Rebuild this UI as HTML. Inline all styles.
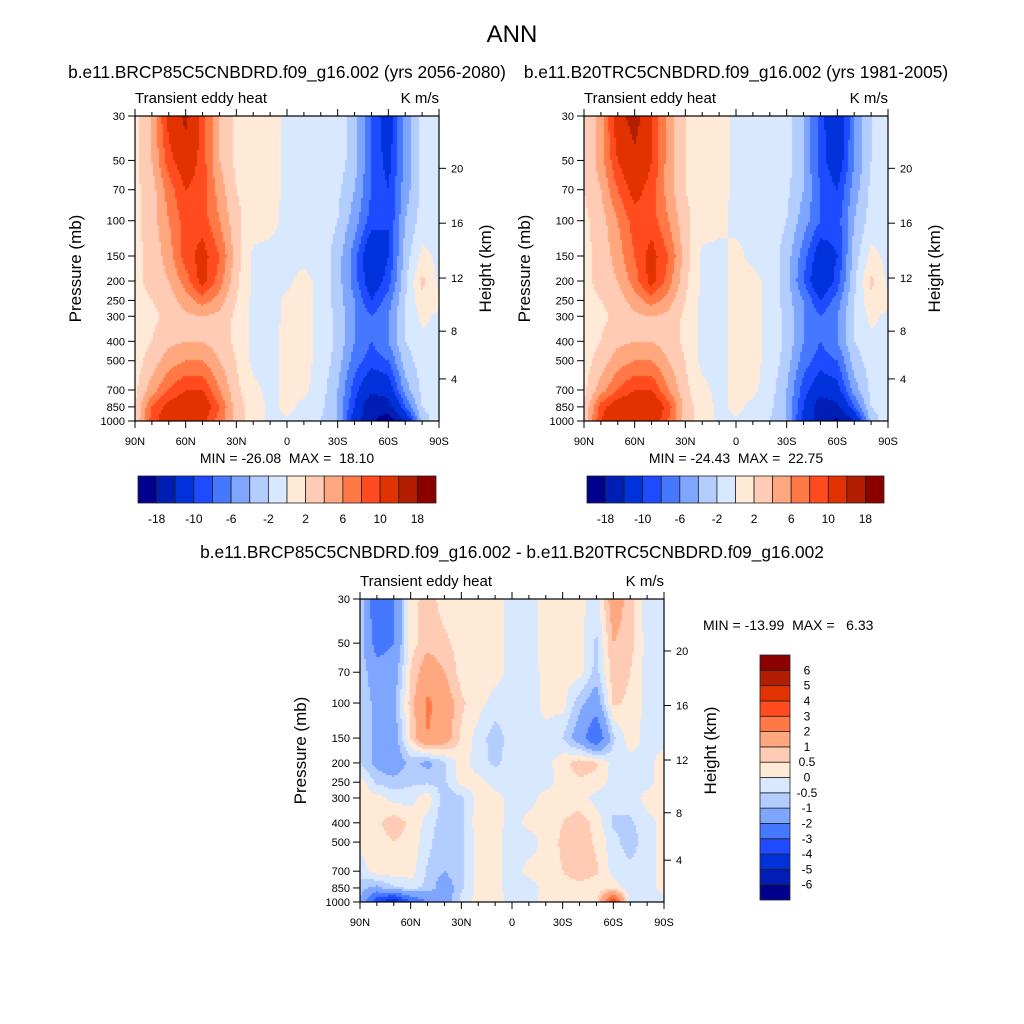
<!DOCTYPE html>
<html><head><meta charset="utf-8">
<style>
html,body{margin:0;padding:0;background:#fff;}
#wrap{position:relative;width:1024px;height:1024px;overflow:hidden;font-family:"Liberation Sans",sans-serif;}
canvas{position:absolute;}
svg{position:absolute;left:0;top:0;}
text{white-space:pre;}
</style></head>
<body>
<div id="wrap">
<canvas id="c1"></canvas>
<canvas id="c2"></canvas>
<canvas id="c3"></canvas>
<svg id="s" width="1024" height="1024"></svg>
</div>
<script>
// ---- data ----
const lats = [90,80,70,60,50,40,30,20,10,0,-10,-20,-30,-40,-50,-60,-70,-80,-90];
const levels = [30,50,70,100,150,200,250,300,400,500,700,850,1000];
const fieldFuture = [
[1.5,4,11,15,9,4,1.5,1,0.8,-0.5,-0.5,-0.6,-1,-3,-8,-12,-5,-1.5,-0.5],
[1.5,4,9,12,9,4,1.5,1,0.8,-0.5,-0.5,-0.6,-1,-3,-8,-11,-5,-1.5,-0.5],
[1.5,3,7,10,9,5,2,1,0.8,-0.5,-0.5,-0.6,-1.5,-4,-8,-10,-5,-1.5,-0.5],
[1.5,3,6,9,9,6,2.5,1,0.5,-0.5,-0.5,-0.6,-2,-5,-9,-10,-4,-1,-0.5],
[1.5,2.5,5,9,11,8,3,-0.5,-0.5,-0.3,-0.5,-0.8,-3,-7,-13,-10,-3,0.5,-0.5],
[1.5,2.5,4,7,11,7,2.5,-0.5,-0.5,-0.3,0.5,-0.5,-3,-7,-12,-9,-2.5,2.5,-0.5],
[1.5,2,3,5,7,5,2,-0.5,-0.5,0.3,0.5,-0.5,-3,-6,-10,-7,-2,1.5,0.5],
[1,1.5,2.5,3.5,4,3.5,1.5,-0.5,-0.5,0.3,0.5,-0.5,-2.5,-6,-8,-6,-2,0.5,-0.5],
[1,2,3.5,4,4,3,1.5,-0.5,-0.5,0.5,0.5,-0.5,-2.5,-6,-8,-6,-2,-0.5,-0.5],
[1,3,5,6,6,4,2,-0.5,-0.5,0.5,0.5,-0.5,-3,-7,-9,-8,-3,-1,-0.5],
[1.5,5,8,10,10,6,2.5,0.5,-0.5,0.5,0.5,-1,-4,-9,-13,-12,-5,-1.5,-1],
[2,8,11,12,12,8,3,1,-0.5,0.5,-0.5,-1.5,-4,-10,-18,-16,-8,-2,-1],
[2,9,12,13,11,7,3,1,-0.3,-0.3,-0.5,-2,-4,-12,-17,-20,-14,-3,-1]];
const fieldHist = [
[2,5,12,16,10,5,2,1,0.8,-0.5,-0.5,-0.6,-1,-4,-9,-13,-6,-2,-0.5],
[2,5,10,13,10,5,2,1,0.8,-0.5,-0.5,-0.6,-1,-4,-9,-12,-6,-2,-0.5],
[2,4,8,11,9,5,2,1,0.8,-0.5,-0.5,-0.6,-1.5,-4,-8,-10,-5,-1.5,-0.5],
[1.5,3,6,9,9,6,2.5,1,0.5,-0.5,-0.5,-0.6,-2,-5,-8,-9,-4,-1,-0.5],
[1.5,2.5,5,8,11,8,3,-0.5,-0.5,0.5,-0.5,-0.8,-3,-7,-12,-10,-3,0.5,-0.5],
[1.5,2.5,4,7,11,7,2.5,-0.5,-0.5,0.5,0.5,-0.5,-3,-8,-13,-9,-2.5,2.5,-0.5],
[1.5,2,3,5,7,5,2,-0.5,-0.5,0.5,0.5,-0.5,-3,-6,-10,-7,-2,1.5,0.5],
[1,1.5,2.5,3.5,4,3.5,1.5,-0.5,-0.5,0.5,0.5,-0.5,-2.5,-6,-8,-6,-2,0.5,-0.5],
[1,2,3.5,4,4,3,1.5,-0.5,-0.5,0.5,0.5,-0.5,-2.5,-6,-8,-6,-2,-0.5,-0.5],
[1,3,5,6,6,4,2,-0.5,-0.5,0.5,0.5,-0.5,-3,-7,-9,-8,-3,-1,-0.5],
[1.5,5,8,10,10,6,2.5,0.5,-0.5,0.5,0.5,-1,-4,-9,-12,-11,-5,-1.5,-1],
[2,9,12,12,13,9,3,1,-0.5,0.5,-0.5,-1.5,-4,-10,-17,-15,-8,-2,-1],
[2,10,13,12,12,8,3,1,-0.3,-0.3,-0.5,-2,-4,-11,-16,-19,-14,-3,-1]];
const fieldDiff = [
[-0.5,-3,-2,0.3,0.7,0.3,0.3,0.2,0.2,-0.2,-0.3,0.3,0.3,0.2,-0.3,1.5,0.7,-0.3,-0.2],
[-0.6,-2.5,-2,0.3,0.8,0.6,0.3,0.2,0.2,-0.2,-0.3,0.3,0.3,0.2,-0.6,1,0.7,-0.2,-0.2],
[-0.6,-1.5,-1.5,0.5,1.5,1,0.3,0.2,0.2,-0.2,-0.3,0.2,0.2,0.2,-0.7,0.8,0.5,-0.2,-0.2],
[-0.6,-1.2,-1.2,0.7,2.2,1.5,0.6,0.2,-0.2,-0.2,-0.3,0.2,0.2,-0.8,-1.5,0.6,0.4,-0.2,-0.2],
[-0.6,-1.2,-1.5,0.5,2,1.5,0.4,-0.2,-0.8,-0.2,-0.3,-0.2,-0.5,-1.5,-3,-0.6,0.3,-0.2,-0.2],
[-0.5,-1.2,-1.5,-0.8,-1.2,-0.6,0.3,-0.3,-0.6,-0.3,-0.3,-0.2,0.3,0.8,0.6,-0.2,-0.2,-0.2,0.3],
[0.3,-0.6,-0.8,-0.6,-0.6,-0.6,0.2,0.2,-0.2,-0.3,-0.2,-0.2,0.2,0.4,0.3,-0.2,-0.2,-0.2,0.3],
[0.3,0.2,-0.2,-0.2,0.3,-0.8,-0.6,0.2,0.2,-0.2,-0.2,0.2,0.2,0.2,-0.2,-0.3,-0.3,0.2,0.3],
[0.3,0.4,0.8,0.4,-0.2,-0.8,-0.6,0.3,0.3,-0.3,0.2,0.2,0.5,0.8,0.3,-0.6,-0.6,-0.2,0.2],
[0.2,0.3,0.5,0.3,-0.3,-1,-0.6,0.2,0.2,-0.3,-0.3,0.2,0.6,0.8,0.4,-0.3,-0.8,-0.2,0.2],
[-0.3,0.3,0.3,0.3,-0.6,-1,-0.6,0.2,0.2,-0.3,0.2,0.2,0.5,0.8,0.6,-0.2,-0.3,-0.2,0.2],
[-0.8,-1.2,-0.6,-0.4,-0.6,-1.5,-0.6,0.2,0.2,-0.3,-0.3,0.2,0.3,0.3,0.2,0.3,-0.3,-0.2,0.2],
[-1,-4,-5,-3,-2,-1.5,-0.3,0.2,0.3,-0.2,-0.2,0.2,0.2,0.3,0.3,4,-0.5,-0.3,-0.2]];
const contourLevelsMain = [-18,-14,-10,-8,-6,-4,-2,0,2,4,6,8,10,14,18];
const contourLevelsDiff = [-6,-5,-4,-3,-2,-1,-0.5,0,0.5,1,2,3,4,5,6];
const mainTickLabels = ["-18","-10","-6","-2","2","6","10","18"];
const diffTickLabels = ["-6","-5","-4","-3","-2","-1","-0.5","0","0.5","1","2","3","4","5","6"];
const colors = ["#00008c","#001eb4","#0032dc","#1e4bff","#4678ff","#7ea6ff","#b4cdff","#d8e8ff","#ffead8","#ffcbb4","#ffa77e","#ff7846","#ff4b1e","#e13200","#b41e00","#8c0000"];
const pressTicks = [30,50,70,100,150,200,250,300,400,500,700,850,1000];
const latTicks = [90,60,30,0,-30,-60,-90];
const latLabels = ["90N","60N","30N","0","30S","60S","90S"];
const heightTicks = [4,8,12,16,20];

const svg = document.getElementById('s');
const NS = "http://www.w3.org/2000/svg";
function mk(tag, attrs, parent){const e=document.createElementNS(NS,tag);for(const k in attrs)e.setAttribute(k,attrs[k]);(parent||svg).appendChild(e);return e;}
function txt(x,y,s,size,anchor,name,extra){const t=mk('text',Object.assign({x:x,y:y,'font-size':size,'text-anchor':anchor||'start','font-family':'Liberation Sans, sans-serif',fill:'#000'},extra||{}));t.textContent=s;


return t;}
function hToP(z){const m=z*1000;return m<=11000?1013.25*Math.pow(1-2.25577e-5*m,5.25588):226.32*Math.exp(-(m-11000)/6341.6);}

function panel(P){
  const {x0,y0,w,h,field,lv,canvas,name}=P;
  const lp0=Math.log(30), lp1=Math.log(1000);
  const yOf=p=>y0+(Math.log(p)-lp0)/(lp1-lp0)*h;
  const xOf=lat=>x0+(90-lat)/180*w;
  const c=document.getElementById(canvas);
  c.width=w;c.height=h;c.style.left=x0+'px';c.style.top=y0+'px';
  const ctx=c.getContext('2d');
  const logL=levels.map(Math.log);
  const step=2;
  for(let py=0;py<h;py+=step){
    const lp=lp0+(py+step/2)/h*(lp1-lp0);
    let r=0;while(r<levels.length-2&&logL[r+1]<lp)r++;
    const fv=Math.min(1,Math.max(0,(lp-logL[r])/(logL[r+1]-logL[r])));
    for(let px=0;px<w;px+=step){
      const lat=90-(px+step/2)/w*180;
      let ci=0;while(ci<lats.length-2&&lats[ci+1]>lat)ci++;
      const fu=Math.min(1,Math.max(0,(lats[ci]-lat)/(lats[ci]-lats[ci+1])));
      const v=(field[r][ci]*(1-fu)+field[r][ci+1]*fu)*(1-fv)+(field[r+1][ci]*(1-fu)+field[r+1][ci+1]*fu)*fv;
      let k=0;while(k<lv.length&&v>=lv[k])k++;
      ctx.fillStyle=colors[k];ctx.fillRect(px,py,step,step);
    }
  }
  const g=mk('g',{});
  
  
  mk('rect',{x:x0,y:y0,width:w,height:h,fill:'none',stroke:'#000','stroke-width':1.2},g);
  pressTicks.forEach(p=>{const y=yOf(p);mk('line',{x1:x0-7,x2:x0,y1:y,y2:y,stroke:'#000'},g);txt(x0-10,y+4,String(p),11,'end','pressure-tick-label');});
  for(let lat=90;lat>=-90;lat-=10){const x=xOf(lat);const major=lat%30===0;const L=major?7:4;
    mk('line',{x1:x,x2:x,y1:y0+h,y2:y0+h+L,stroke:'#000'},g);mk('line',{x1:x,x2:x,y1:y0,y2:y0-L,stroke:'#000'},g);}
  latTicks.forEach((lat,i)=>txt(xOf(lat),y0+h+24,latLabels[i],11,'middle','latitude-tick-label'));
  heightTicks.forEach(z=>{const y=yOf(hToP(z));mk('line',{x1:x0+w,x2:x0+w+7,y1:y,y2:y,stroke:'#000'},g);txt(x0+w+12,y+4,String(z),11,'start','height-tick-label');});
  txt(x0-60,y0+h/2,'Pressure (mb)',17,'middle','y-axis-title',{transform:`rotate(-90 ${x0-60} ${y0+h/2})`,dy:6});
  txt(x0+w+52,y0+h/2,'Height (km)',17,'middle','right-axis-title',{transform:`rotate(-90 ${x0+w+52} ${y0+h/2})`,dy:0});
  txt(x0,y0-13,'Transient eddy heat',15,'start','left-string');
  txt(x0+w,y0-13,'K m/s',15,'end','units-string');
}
function hbar(x0,y0,w,h,lv,labels,name){
  const n=colors.length,bw=w/n;
  colors.forEach((c,i)=>{const r=mk('rect',{x:x0+i*bw,y:y0,width:bw,height:h,fill:c,stroke:'#222','stroke-width':0.8});
  
  });
  labels.forEach((s,i)=>txt(x0+(2*i+1)*bw,y0+h+20,s,12,'middle',name+'-label'));
}
panel({x0:135,y0:116,w:304,h:305,field:fieldFuture,lv:contourLevelsMain,canvas:'c1',name:'future-panel'});
panel({x0:584,y0:116,w:304,h:305,field:fieldHist,lv:contourLevelsMain,canvas:'c2',name:'historical-panel'});
panel({x0:360,y0:599,w:304,h:303,field:fieldDiff,lv:contourLevelsDiff,canvas:'c3',name:'difference-panel'});
hbar(138,476,298,27,contourLevelsMain,mainTickLabels,'colorbar-future');
hbar(587,476,297,27,contourLevelsMain,mainTickLabels,'colorbar-historical');
(function(){const x0=760,y0=655,w=30,H=245,n=colors.length,bh=H/n;
  colors.forEach((c,i)=>{const r=mk('rect',{x:x0,y:y0+H-(i+1)*bh,width:w,height:bh,fill:c,stroke:'#222','stroke-width':0.8});
  
  });
  diffTickLabels.forEach((s,i)=>txt(x0+w+17,y0+H-(i+1)*bh+4,s,12,'middle','colorbar-diff-label'));
})();
txt(512,42,'ANN',24,'middle','main-title');
txt(287,78,'b.e11.BRCP85C5CNBDRD.f09_g16.002 (yrs 2056-2080)',17.3,'middle','future-subtitle');
txt(736,78,'b.e11.B20TRC5CNBDRD.f09_g16.002 (yrs 1981-2005)',17.3,'middle','historical-subtitle');
txt(287,463,'MIN = -26.08  MAX =  18.10',14,'middle','future-minmax');
txt(736,463,'MIN = -24.43  MAX =  22.75',14,'middle','historical-minmax');
txt(512,558,'b.e11.BRCP85C5CNBDRD.f09_g16.002 - b.e11.B20TRC5CNBDRD.f09_g16.002',17.3,'middle','difference-subtitle');
txt(703,630,'MIN = -13.99  MAX =   6.33',14,'start','difference-minmax');
</script>
</body></html>
